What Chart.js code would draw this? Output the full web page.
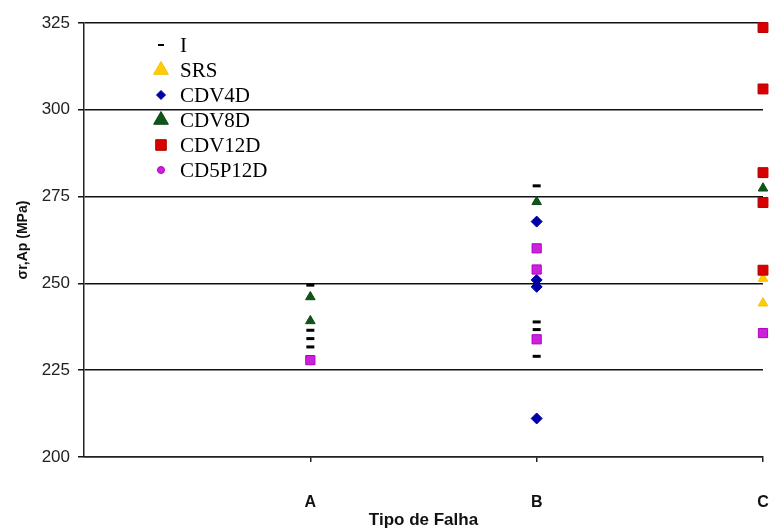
<!DOCTYPE html>
<html>
<head>
<meta charset="utf-8">
<script src="https://cdn.jsdelivr.net/npm/chart.js@4/dist/chart.umd.min.js"></script>
<style>
  body { margin: 0; background: #fff; }
  #wrap { width: 779px; height: 531px; }
</style>
</head>
<body>
<div id="wrap"><canvas id="myChart_falha" width="779" height="531"></canvas></div>
<script>
// categories on the x axis and y tick values
const categories = ['A', 'B', 'C'];
const yTicks = [200, 225, 250, 275, 300, 325];

// each series: [category, value in MPa]
const serieI = [['A', 249.5], ['A', 236.5], ['A', 234.1], ['A', 231.7],
                ['B', 278.1], ['B', 238.9], ['B', 236.7], ['B', 229.0]];
const serieSRS = [['C', 251.4], ['C', 244.3]];
const serieCDV4D = [['B', 267.8], ['B', 251.0], ['B', 249.0], ['B', 211.1]];
const serieCDV8D = [['A', 246.1], ['A', 239.2], ['B', 273.5], ['C', 277.4]];
const serieCDV12D = [['C', 323.7], ['C', 306.0], ['C', 281.9], ['C', 273.3], ['C', 253.8]];
const serieCD5P12D = [['A', 227.9], ['B', 260.1], ['B', 254.0], ['B', 233.9], ['C', 235.7]];

function pts(serie) {
    return serie.map(p => ({ x: categories.indexOf(p[0]) + 1, y: p[1] }));
}

// legend drawn inside the plot, top left, like the original
const legendInside = {
    id: 'legendInside',
    afterDraw(chart) {
        const ctx = chart.ctx;
        const x0 = 161, y0 = 45, step = 25;
        ctx.save();
        chart.data.datasets.forEach((ds, i) => {
            const y = y0 + i * step;
            ctx.fillStyle = ds.backgroundColor;
            ctx.strokeStyle = ds.borderColor;
            ctx.lineWidth = ds.legendBorder;
            if (Chart.helpers && Chart.helpers.drawPoint) {
                Chart.helpers.drawPoint(ctx, {
                    pointStyle: ds.legendStyle, radius: ds.legendRadius,
                    borderWidth: ds.legendBorder, rotation: 0
                }, x0, y);
            }
            ctx.fillStyle = '#000';
            ctx.font = '21px "Liberation Serif", "Times New Roman", serif';
            ctx.textAlign = 'left';
            ctx.textBaseline = 'middle';
            ctx.fillText(ds.label, 180, y + 1);
        });
        ctx.restore();
    }
};

var ctx = document.getElementById('myChart_falha').getContext('2d');
var myChart = new Chart(ctx, {
    type: 'scatter',
    data: {
        datasets: [
            { label: 'I', data: pts(serieI), pointStyle: 'line', pointRadius: 4,
              borderColor: '#000', backgroundColor: '#000', pointBorderWidth: 3,
              legendStyle: 'line', legendRadius: 3, legendBorder: 2, order: 6 },
            { label: 'SRS', data: pts(serieSRS), pointStyle: 'triangle', pointRadius: 5.5,
              borderColor: '#F5C000', backgroundColor: '#FFCC00', pointBorderWidth: 1,
              legendStyle: 'triangle', legendRadius: 8.5, legendBorder: 1, order: 5 },
            { label: 'CDV4D', data: pts(serieCDV4D), pointStyle: 'rectRot', pointRadius: 5.5,
              borderColor: '#0000A0', backgroundColor: '#0000A8', pointBorderWidth: 1,
              legendStyle: 'rectRot', legendRadius: 4.5, legendBorder: 1, order: 4 },
            { label: 'CDV8D', data: pts(serieCDV8D), pointStyle: 'triangle', pointRadius: 5.5,
              borderColor: '#0B4A14', backgroundColor: '#0D5518', pointBorderWidth: 1,
              legendStyle: 'triangle', legendRadius: 8.5, legendBorder: 1, order: 3 },
            { label: 'CDV12D', data: pts(serieCDV12D), pointStyle: 'rect', pointRadius: 7,
              borderColor: '#B00000', backgroundColor: '#D80000', pointBorderWidth: 1,
              legendStyle: 'rect', legendRadius: 7.5, legendBorder: 1, order: 2 },
            { label: 'CD5P12D', data: pts(serieCD5P12D), pointStyle: 'rect', pointRadius: 6.5,
              borderColor: '#B000C0', backgroundColor: '#CC22DD', pointBorderWidth: 1,
              legendStyle: 'circle', legendRadius: 3.5, legendBorder: 1, order: 1 }
        ]
    },
    options: {
        responsive: false,
        animation: false,
        clip: false,
        layout: { padding: { top: 23, right: 16, left: 0, bottom: 0 } },
        plugins: {
            legend: { display: false },
            tooltip: { enabled: false }
        },
        scales: {
            x: {
                type: 'linear',
                min: 0,
                max: 3,
                afterBuildTicks: (axis) => {
                    axis.ticks = categories.map((c, i) => ({ value: i + 1 }));
                },
                afterFit: (axis) => {
                    axis.height = 74;
                    axis.paddingLeft = 0;
                    axis.paddingRight = 0;
                },
                ticks: {
                    callback: (v) => categories[v - 1] || '',
                    color: '#111',
                    padding: 31,
                    maxRotation: 0,
                    font: { family: '"Liberation Sans", Arial, sans-serif', size: 16, weight: 'bold' }
                },
                grid: { drawOnChartArea: false, drawTicks: true, tickLength: 5, color: '#222', lineWidth: 1.5 },
                border: { color: '#222', width: 1.5 },
                title: {
                    display: true,
                    text: 'Tipo de Falha',
                    color: '#111',
                    padding: { top: -3, bottom: 0 },
                    font: { family: '"Liberation Sans", Arial, sans-serif', size: 17, weight: 'bold' }
                }
            },
            y: {
                min: yTicks[0],
                max: yTicks[yTicks.length - 1],
                afterBuildTicks: (axis) => {
                    axis.ticks = yTicks.map(v => ({ value: v }));
                },
                afterFit: (axis) => { axis.width = 84; },
                ticks: {
                    color: '#222',
                    padding: 8,
                    font: { family: '"Liberation Sans", Arial, sans-serif', size: 17 }
                },
                grid: { color: '#111', lineWidth: 1.5, tickLength: 6 },
                border: { color: '#222', width: 1.5 },
                title: {
                    display: true,
                    text: 'σr,Ap (MPa)',
                    color: '#111',
                    padding: { top: 15, bottom: 0 },
                    font: { family: '"Liberation Sans", Arial, sans-serif', size: 14, weight: 'bold' }
                }
            }
        }
    },
    plugins: [legendInside]
});
</script>
</body>
</html>
